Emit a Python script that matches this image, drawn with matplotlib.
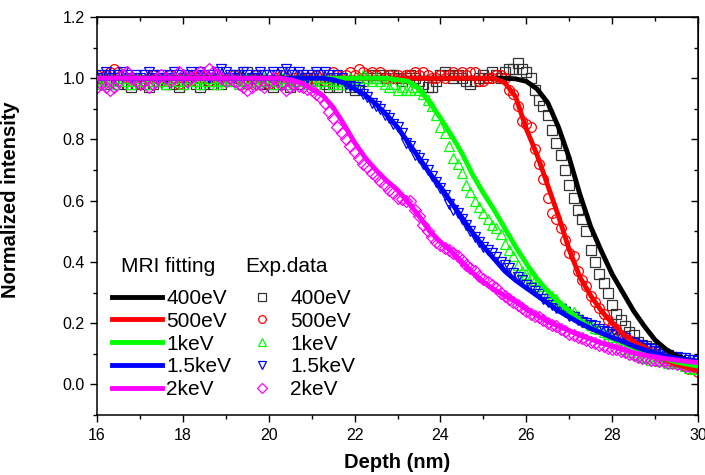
import numpy as np
import matplotlib.pyplot as plt
from matplotlib.lines import Line2D
from matplotlib.ticker import MultipleLocator

plt.rcParams['font.family'] = ['Liberation Sans', 'DejaVu Sans']

labels = ["400eV", "500eV", "1keV", "1.5keV", "2keV"]
colors = ["#000000", "#ff0000", "#00ff00", "#0000ff", "#ff00ff"]
edge_colors = ["#333333", "#ff0000", "#00ff00", "#0000ff", "#ff00ff"]
markers = ["s", "o", "^", "v", "D"]

# experimental data, one point every 0.1 nm from 16 to 30 nm, intensity in %
exp_depth = np.round(np.linspace(16, 30, 141), 1)

exp_400 = [100, 99, 98, 99, 100, 98, 99, 98, 97, 98,
           99, 98, 97, 98, 99, 100, 98, 99, 98, 97,
           98, 99, 100, 98, 97, 98, 99, 98, 99, 98,
           99, 100, 101, 100, 99, 102, 100, 99, 98, 99,
           98, 97, 98, 99, 98, 97, 99, 98, 99, 100,
           99, 98, 99, 98, 97, 98, 97, 98, 99, 97,
           96, 97, 99, 100, 101, 100, 101, 100, 101, 101,
           100, 99, 100, 101, 100, 99, 98, 97, 97, 99,
           101, 102, 101, 100, 101, 100, 99, 98, 99, 100,
           101, 100, 102, 101, 100, 102, 103, 103, 105, 103,
           102, 100, 96, 93, 91, 88, 83, 79, 75, 70,
           65, 61, 57, 54, 50, 44, 40, 36, 33, 30,
           26, 23, 21, 19, 17, 16, 14, 13, 12.5, 12,
           11, 10, 9, 9, 8, 8, 7, 7, 7, 6,
           6]

exp_500 = [101, 100, 101, 102, 103, 102, 101, 100, 99, 100,
           98, 99, 100, 101, 100, 99, 100, 101, 99, 98,
           100, 101, 99, 100, 101, 100, 99, 100, 101, 100,
           99, 100, 101, 100, 99, 98, 100, 101, 100, 99,
           98, 99, 100, 101, 100, 99, 100, 101, 100, 99,
           100, 101, 100, 99, 100, 102, 101, 100, 101, 102,
           101, 103, 102, 101, 102, 101, 102, 100, 101, 100,
           101, 100, 101, 101, 102, 101, 102, 101, 100, 100,
           101, 100, 101, 102, 101, 102, 101, 102, 102, 99,
           99, 100, 100, 101, 101, 100, 96, 95, 91, 86,
           85, 84, 77, 72, 67, 61, 56, 54, 51, 47,
           43, 42, 37, 34, 32, 29, 27, 25, 23, 21,
           19, 18, 16, 15.5, 14.5, 13.5, 12.5, 12, 11, 10.5,
           10, 9, 8.5, 8, 7.5, 7, 6.5, 6, 5, 5,
           4]

exp_1k = [99, 98, 99, 100, 98, 99, 100, 99, 98, 99,
          100, 99, 98, 99, 100, 99, 98, 99, 100, 99,
          98, 99, 100, 99, 98, 99, 100, 99, 98, 99,
          99, 100, 99, 98, 99, 100, 99, 98, 99, 100,
          99, 98, 99, 100, 99, 98, 99, 100, 99, 98,
          99, 98, 99, 100, 99, 98, 99, 98, 99, 100,
          99, 100, 101, 100, 99, 100, 99, 98, 97, 98,
          96, 97, 96, 96, 97, 96, 95, 93, 91, 88,
          84, 82, 78, 74, 72, 69, 65, 63, 60, 58,
          56, 54, 52, 51, 49, 46, 44, 42, 39, 37,
          36, 35, 34, 32, 31, 30, 29, 28, 26, 25,
          24, 23.5, 22.5, 21.5, 20.5, 19.5, 18.5, 18, 17, 16.5,
          15.5, 14.5, 13, 11.5, 10.5, 10, 9.5, 9, 8.5, 8,
          8, 7.5, 7.5, 7, 7, 7, 6.5, 6, 5.5, 5,
          5]

exp_1p5k = [100, 101, 102, 101, 100, 101, 102, 101, 100, 101,
            100, 101, 102, 101, 100, 101, 100, 101, 102, 101,
            100, 101, 102, 101, 102, 101, 100, 101, 102, 103,
            102, 101, 100, 101, 102, 101, 100, 101, 102, 101,
            101, 102, 101, 102, 103, 102, 101, 102, 101, 100,
            101, 102, 101, 102, 101, 100, 101, 100, 98, 97.5,
            97, 96, 95, 94, 92, 91, 90, 88, 87, 85,
            84, 82, 79, 78, 75, 74, 72, 70, 68, 66,
            64, 62, 59, 57, 56, 54, 52, 50, 48, 46.5,
            45, 44, 43, 41.5, 40, 39, 38, 36.5, 35, 34,
            32.5, 31.5, 30.5, 29.5, 28, 27, 26, 25, 24.5, 23.5,
            22.5, 22, 21, 20.5, 20, 19.5, 19, 18, 17.5, 17,
            16.5, 16, 15.5, 15, 14, 13.5, 13, 12.5, 12, 11.5,
            11, 10.5, 10, 9.5, 9, 9, 8.5, 8.5, 8, 8,
            7.5]

exp_2k = [97, 98, 97, 96, 97, 99, 101, 102, 100, 99,
          98, 99, 97, 98, 100, 101, 100, 99, 100, 102,
          101, 99, 100, 101, 102, 101, 103, 102, 101, 100,
          99, 100, 99, 98, 97, 96, 97, 98, 98, 97,
          99, 100, 99, 98, 96, 97, 98, 97.5, 97, 96.5,
          96, 95, 94, 92, 89, 87, 84, 82, 80, 78,
          76, 74, 72, 71, 69, 68, 66.5, 65, 63.5, 62.5,
          61, 60.5, 60, 60, 57, 55, 52, 50, 48, 46.5,
          45.5, 44.5, 44, 43, 42, 40.5, 39, 38, 37, 35.5,
          34.5, 33.5, 32.5, 31.5, 30, 29, 28, 27, 26, 25,
          24, 23, 22.5, 22, 21, 20, 19.5, 19, 18, 17.5,
          16.5, 16, 15.5, 15, 14.5, 14, 13.5, 13, 12.5, 12,
          11.5, 11.5, 11, 10.5, 10, 9.5, 9, 8.5, 8.5, 8,
          8, 7.5, 7.5, 7, 7, 6.5, 6.5, 6, 6, 6,
          6]

# MRI fitting curves (depth in nm, intensity in %)
fit_400_x = [16, 25.5, 25.75, 26, 26.25, 26.5, 26.75, 27, 27.25, 27.5, 27.75,
             28, 28.25, 28.5, 28.75, 29, 29.25, 29.5, 29.75, 30]
fit_400_y = [100, 100, 99.8, 99, 96.5, 92, 84, 74, 62, 51.5, 43.5,
             36, 30, 24, 19, 14.5, 11.5, 9.3, 8, 7]

fit_500_x = [16, 25.25, 25.5, 25.75, 26, 26.25, 26.5, 26.75, 27, 27.25, 27.5,
             27.75, 28, 28.25, 28.5, 28.75, 29, 29.25, 29.5, 29.75, 30]
fit_500_y = [100, 100, 98.5, 94, 83.5, 75, 65, 55, 44, 35, 29,
             24, 20, 16.5, 14, 12, 9.5, 8, 6.5, 5.5, 4.5]

fit_1k_x = [16, 22.75, 23, 23.25, 23.5, 23.75, 24, 24.25, 24.5, 24.75, 25,
            25.25, 25.5, 25.75, 26, 26.25, 26.5, 26.75, 27, 27.25, 27.5,
            27.75, 28, 28.25, 28.5, 28.75, 29, 29.25, 29.5, 29.75, 30]
fit_1k_y = [100, 100, 99.5, 99, 96.5, 92, 87, 81.5, 75.5, 68.5, 62.5,
            57, 51, 45, 39.5, 34.5, 30.5, 27, 24, 21, 18.5,
            16.8, 15, 13.5, 12, 10.8, 9.5, 8.3, 7.3, 6.6, 6]

fit_1p5k_x = [16, 21.25, 21.5, 21.75, 22, 22.25, 22.5, 22.75, 23, 23.25, 23.5,
              23.75, 24, 24.25, 24.5, 24.75, 25, 25.25, 25.5, 25.75, 26,
              26.25, 26.5, 26.75, 27, 27.25, 27.5, 27.75, 28, 28.25, 28.5,
              28.75, 29, 29.25, 29.5, 29.75, 30]
fit_1p5k_y = [100, 100, 99.5, 98.5, 96.5, 94.5, 91.5, 88, 84, 79, 74,
              69, 64.5, 59.5, 54.5, 49.5, 45, 41, 37, 34, 31.5,
              29, 26.5, 24, 22, 20, 18.3, 16.8, 15.3, 14, 12.5,
              11.3, 10.2, 9.2, 8.5, 8, 7.6]

fit_2k_x = [16, 20.25, 20.5, 20.75, 21, 21.25, 21.5, 21.75, 22, 22.25, 22.5,
            22.75, 23, 23.25, 23.5, 23.75, 24, 24.25, 24.5, 24.75, 25,
            25.25, 25.5, 25.75, 26, 26.25, 26.5, 26.75, 27, 27.25, 27.5,
            27.75, 28, 28.25, 28.5, 28.75, 29, 29.25, 29.5, 29.75, 30]
fit_2k_y = [100, 100, 99.5, 98.5, 96.5, 94.5, 90.5, 85, 79, 74, 70,
            66.5, 63.5, 59.5, 55, 50, 46.5, 43.5, 40, 36.5, 33.5,
            31, 29, 27, 24.5, 22.5, 20.5, 19, 17.5, 16, 14.8,
            13.5, 12.5, 11.3, 10.3, 9.6, 9, 8.4, 7.9, 7.5, 7.1]

exp_series = [exp_400, exp_500, exp_1k, exp_1p5k, exp_2k]
fit_series = [(fit_400_x, fit_400_y), (fit_500_x, fit_500_y), (fit_1k_x, fit_1k_y),
              (fit_1p5k_x, fit_1p5k_y), (fit_2k_x, fit_2k_y)]

fig = plt.figure(figsize=(7.05, 4.75), dpi=100)
ax = fig.add_axes([97/705, 1 - 415/475, 601/705, 398/475])

for y, c, ec, m in zip(exp_series, colors, edge_colors, markers):
    ms = 6.5 if m == "D" else 7
    ax.plot(exp_depth, np.array(y) / 100, ls="none", marker=m, ms=ms,
            mfc="none", mec=ec, mew=0.9, zorder=2)

for (x, y), c in zip(fit_series, colors):
    ax.plot(x, np.array(y) / 100, color=c, lw=3.5, solid_capstyle="butt", zorder=3)

ax.set_xlim(16, 30)
ax.set_ylim(-0.1, 1.2)
ax.xaxis.set_major_locator(MultipleLocator(2))
ax.xaxis.set_minor_locator(MultipleLocator(1))
ax.yaxis.set_major_locator(MultipleLocator(0.2))
ax.yaxis.set_minor_locator(MultipleLocator(0.1))
ax.yaxis.set_major_formatter(plt.FormatStrFormatter("%.1f"))
ax.tick_params(which="major", direction="out", length=5, width=1, labelsize=11.5)
ax.tick_params(axis="x", which="major", pad=4.5)
ax.tick_params(axis="y", which="major", pad=4)
ax.tick_params(which="minor", direction="out", length=3, width=1)
for s in ax.spines.values():
    s.set_linewidth(1.1)

top = ax.secondary_xaxis("top")
top.xaxis.set_major_locator(MultipleLocator(2))
top.xaxis.set_minor_locator(MultipleLocator(1))
top.tick_params(which="major", direction="in", length=5, width=1, labeltop=False)
top.tick_params(which="minor", direction="in", length=3, width=1)
right = ax.secondary_yaxis("right")
right.yaxis.set_major_locator(MultipleLocator(0.2))
right.yaxis.set_minor_locator(MultipleLocator(0.1))
right.tick_params(which="major", direction="in", length=5, width=1, labelright=False)
right.tick_params(which="minor", direction="in", length=3, width=1)

ax.set_xlabel("Depth (nm)", fontsize=14.5, fontweight="bold", labelpad=7)
ax.set_ylabel("Normalized intensity", fontsize=14.5, fontweight="bold")
ax.yaxis.set_label_coords((20 - 97) / 601, (415 - 200) / 398)

# legend: fitting lines and experimental markers in two columns
line_handles = [Line2D([], [], color=c, lw=3.5) for c in colors]
mark_handles = [Line2D([], [], ls="none", marker=m, ms=5.5, mfc="none", mec=ec, mew=0.9)
                for m, ec in zip(markers, edge_colors)]
leg1 = ax.legend(line_handles, labels, loc="upper left",
                 bbox_to_anchor=((112 - 97) / 601, (415 - 289) / 398),
                 frameon=False, fontsize=15, handlelength=2.4, handletextpad=0.2,
                 labelspacing=0.18, borderpad=0, borderaxespad=0)
ax.add_artist(leg1)
ax.legend(mark_handles, labels, loc="upper left",
          bbox_to_anchor=((252 - 97) / 601, (415 - 289) / 398),
          frameon=False, fontsize=15, handlelength=1.0, handletextpad=0.83,
          labelspacing=0.18, borderpad=0, borderaxespad=0)
ax.text((121 - 97) / 601, (415 - 266) / 398, "MRI fitting", transform=ax.transAxes,
        fontsize=15, va="center", ha="left")
ax.text((245 - 97) / 601, (415 - 266) / 398, "Exp.data", transform=ax.transAxes,
        fontsize=15, va="center", ha="left")

fig.savefig("out.png", dpi=100)
